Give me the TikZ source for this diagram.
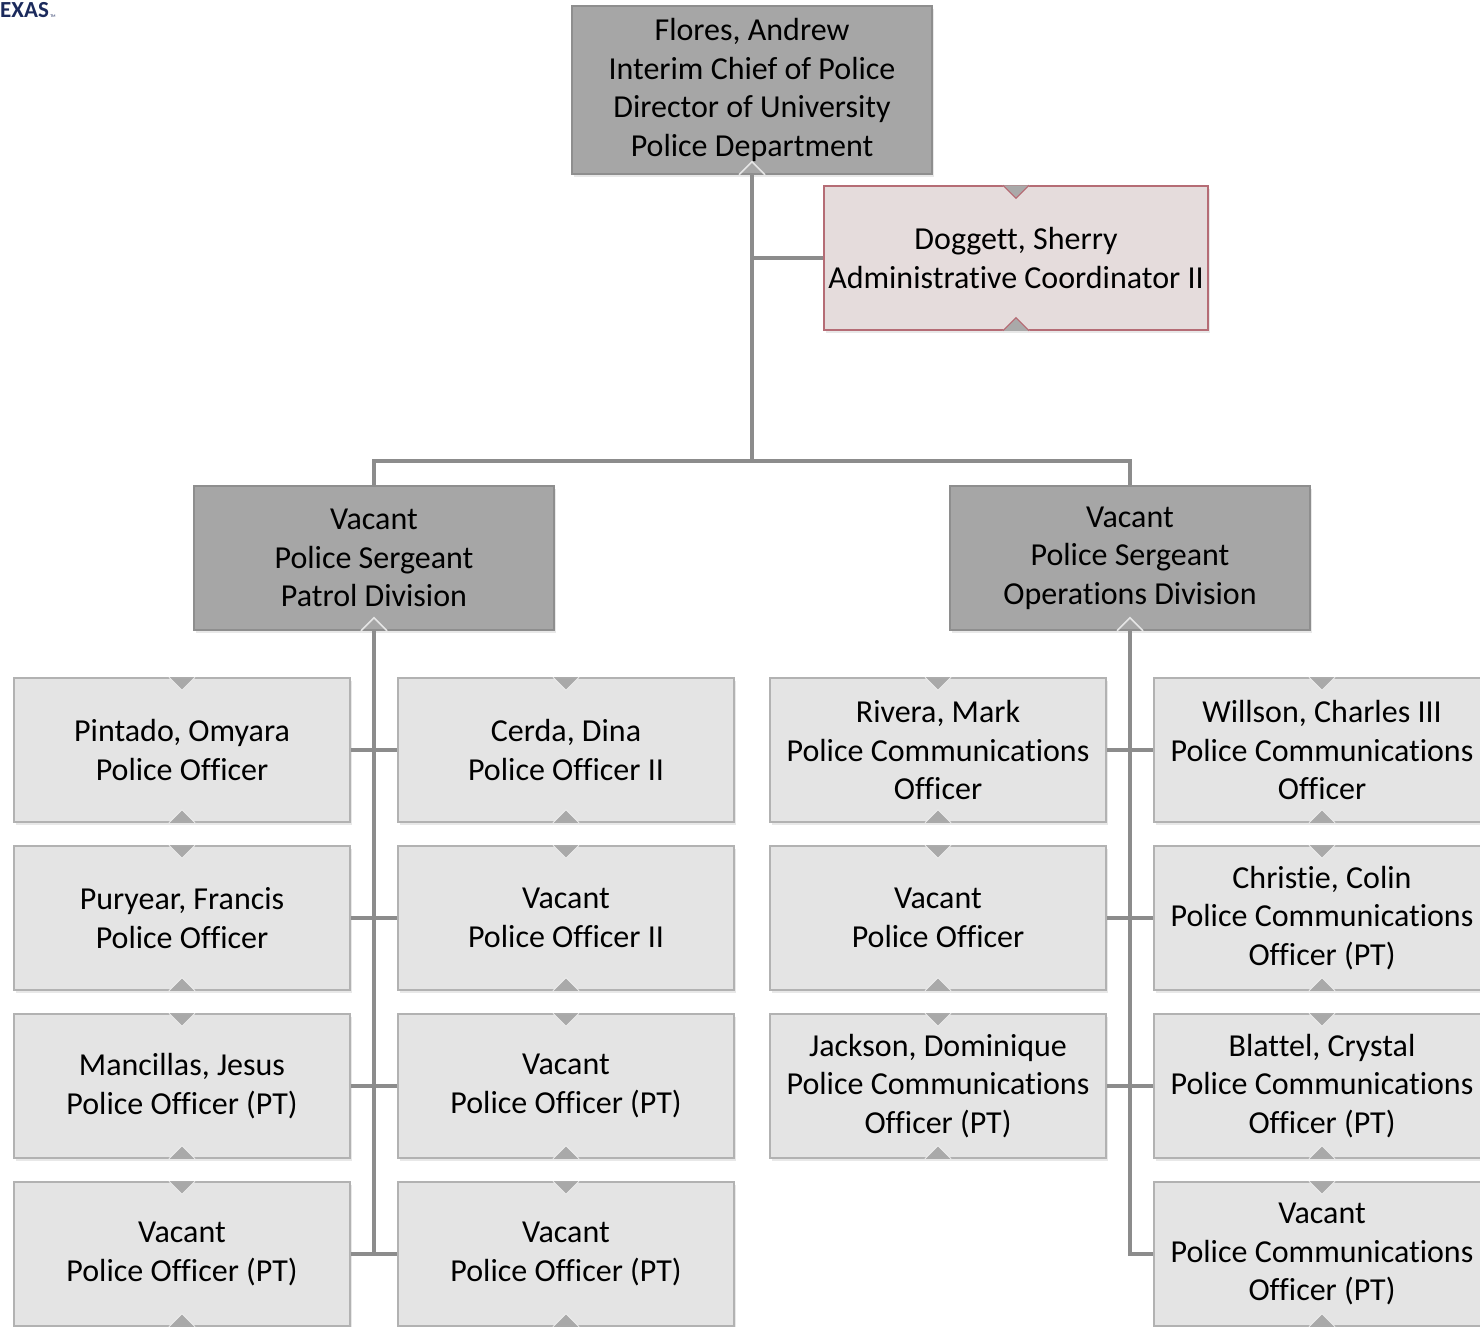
\documentclass[tikz,border=0pt]{standalone}
\usepackage{fontspec}
\setmainfont{Carlito}[Ligatures={NoCommon,NoRare}]
\usetikzlibrary{shadows}

\definecolor{headfill}{HTML}{A6A6A6}
\definecolor{headline}{HTML}{8E8E8E}
\definecolor{staffill}{HTML}{E4E4E4}
\definecolor{staffline}{HTML}{B2B2B2}
\definecolor{adminfill}{HTML}{E5DCDC}
\definecolor{adminline}{HTML}{B56C75}
\definecolor{linkgray}{HTML}{8C8C8C}
\definecolor{chevgray}{HTML}{A9A9A9}
\definecolor{logonavy}{HTML}{1B2A5C}

\begin{document}
\begin{tikzpicture}[x=1pt,y=-1pt]
    \tikzset{
        box/.style={draw=staffline, fill=staffill, line width=1.5pt, rectangle,
            minimum width=336pt, minimum height=144pt, inner sep=0pt, align=center,
            font=\fontsize{32}{38.5}\selectfont,
            drop shadow={opacity=0.18, shadow xshift=2pt, shadow yshift=-3pt}},
        headbox/.style={box, draw=headline, fill=headfill, minimum width=360pt},
        adminbox/.style={box, draw=adminline, fill=adminfill, minimum width=384pt},
        link/.style={draw=linkgray, line width=4pt},
        chevdown/.style={fill=chevgray, draw=white!85!gray, line width=1pt},
        chevup/.style={fill=chevgray, draw=white!85!gray, line width=1pt}
    }
    \useasboundingbox (0,0) rectangle (1480,1327);

    % logo fragment
    \node[anchor=north west, inner sep=0pt, text=logonavy, font=\fontsize{23}{23}\bfseries\selectfont] (logo) at (0,2) {EXAS};
    \node[anchor=south west, inner sep=0pt, text=logonavy, font=\fontsize{4}{4}\selectfont] (logotm) at ([xshift=1pt]logo.south east) {TM};

    % chief and admin
    \node[headbox, minimum height=168pt] (flores) at (752,90) {Flores, Andrew\\Interim Chief of Police\\Director of University\\Police Department};
    \node[adminbox] (doggett) at (1016,258) {Doggett, Sherry\\Administrative Coordinator II};

    % sergeants
    \node[headbox] (patrol) at (374,558) {Vacant\\Police Sergeant\\Patrol Division};
    \node[headbox] (ops) at (1130,558) {Vacant\\Police Sergeant\\Operations Division};

    % patrol division
    \node[box] (pintado) at (182,750) {Pintado, Omyara\\Police Officer};
    \node[box] (cerda) at (566,750) {Cerda, Dina\\Police Officer II};
    \node[box] (puryear) at (182,918) {Puryear, Francis\\Police Officer};
    \node[box] (vacpo2) at (566,918) {Vacant\\Police Officer II};
    \node[box] (mancillas) at (182,1086) {Mancillas, Jesus\\Police Officer (PT)};
    \node[box] (vacpta) at (566,1086) {Vacant\\Police Officer (PT)};
    \node[box] (vacptb) at (182,1254) {Vacant\\Police Officer (PT)};
    \node[box] (vacptc) at (566,1254) {Vacant\\Police Officer (PT)};

    % operations division
    \node[box] (rivera) at (938,750) {Rivera, Mark\\Police Communications\\Officer};
    \node[box] (willson) at (1322,750) {Willson, Charles III\\Police Communications\\Officer};
    \node[box] (vacpo) at (938,918) {Vacant\\Police Officer};
    \node[box] (christie) at (1322,918) {Christie, Colin\\Police Communications\\Officer (PT)};
    \node[box] (jackson) at (938,1086) {Jackson, Dominique\\Police Communications\\Officer (PT)};
    \node[box] (blattel) at (1322,1086) {Blattel, Crystal\\Police Communications\\Officer (PT)};
    \node[box] (vacpco) at (1322,1254) {Vacant\\Police Communications\\Officer (PT)};

    % connectors
    \coordinate (hub) at (752,461);
    \draw[link] (flores.south) -- (hub);
    \draw[link] (doggett.west) -- (doggett.west -| flores.south);
    \draw[link] (patrol.north) |- (hub) -| (ops.north);
    \draw[link] (patrol.south) -- (patrol.south |- vacptb.east);
    \draw[link] (ops.south) |- (vacpco.west);
    \foreach \x/\y in {%
        pintado/cerda, puryear/vacpo2, mancillas/vacpta, vacptb/vacptc,%
        rivera/willson, vacpo/christie, jackson/blattel%
    }{
    \draw[link] (\x.east) -- (\y.west);
    }

    % chevrons
    \foreach \n in {doggett, pintado, cerda, puryear, vacpo2, mancillas, vacpta, vacptb, vacptc,
        rivera, willson, vacpo, christie, jackson, blattel, vacpco}{
    \filldraw[chevdown] ([xshift=-13pt]\n.north) -- ([yshift=-13pt]\n.north) -- ([xshift=13pt]\n.north);
    }
    \foreach \n in {doggett, pintado, cerda, puryear, vacpo2, mancillas, vacpta, vacptb, vacptc,
        rivera, willson, vacpo, christie, jackson, blattel, vacpco}{
    \filldraw[chevup] ([xshift=-13pt]\n.south) -- ([yshift=13pt]\n.south) -- ([xshift=13pt]\n.south);
    }
    \foreach \n in {flores, patrol, ops}{
    \draw[white!80!gray, line width=1.5pt] ([xshift=-13pt]\n.south) -- ([yshift=13pt]\n.south) -- ([xshift=13pt]\n.south);
    }
    \draw[adminline, line width=1.2pt] ([xshift=-13pt]doggett.north) -- ([yshift=-13pt]doggett.north) -- ([xshift=13pt]doggett.north);
    \draw[adminline, line width=1.2pt] ([xshift=-13pt]doggett.south) -- ([yshift=13pt]doggett.south) -- ([xshift=13pt]doggett.south);
\end{tikzpicture}
\end{document}
